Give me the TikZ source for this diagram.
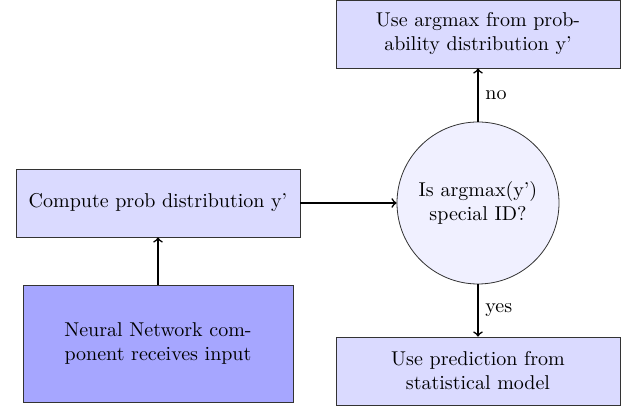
\documentclass[tikz,border=0pt]{standalone}
\usetikzlibrary{arrows,positioning,shapes.geometric}
\begin{document}
\begin{tikzpicture}[x=1pt,y=1pt]
%
\useasboundingbox (0,0) rectangle (314.5,205.5);
%
\definecolor{cfbox}{rgb}{0.855,0.855,1.0}
\definecolor{cfin}{rgb}{0.65,0.65,1.0}
\definecolor{cfq}{rgb}{0.94,0.94,1.0}
\definecolor{cline}{rgb}{0.2,0.2,0.2}
%
\tikzset{stepbox/.style={draw=cline,fill=cfbox,minimum width=142pt,minimum height=34pt,align=center,inner sep=3pt},
  inbox/.style={draw=cline,fill=cfin,minimum width=135pt,minimum height=58.5pt,align=center,inner sep=3pt},
  decision/.style={draw=cline,fill=cfq,shape=circle,minimum size=81pt,align=center,inner sep=1pt},
  flow/.style={->,thick,color=black}}
%
\node[stepbox] (prob) at (79,104) {Compute prob distribution y'};
\node[inbox] (nn) at (79,33.75) {Neural Network com-\\ponent receives input};
\node[decision] (check) at (239,104) {Is argmax(y')\\special ID?};
\node[stepbox] (argmax) at (239,188.5) {Use argmax from prob-\\ability distribution y'};
\node[stepbox] (pred) at (239,20) {Use prediction from\\statistical model};
%
\draw[flow] (nn) -- (prob);
\draw[flow] (prob) -- (check);
\draw[flow] (check) -- node[right] {no} (argmax);
\draw[flow] (check) -- node[right] {yes} (pred);
%
\end{tikzpicture}
\end{document}
